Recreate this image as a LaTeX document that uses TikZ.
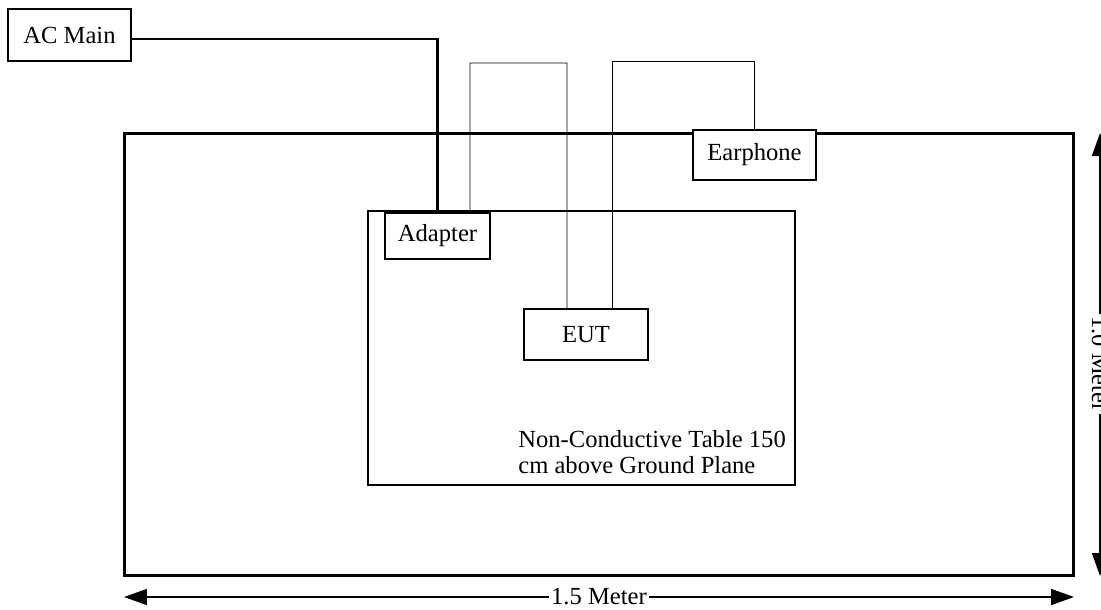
\documentclass[tikz,border=0pt]{standalone}
\usepackage{fontspec}
\setmainfont{Liberation Serif}
\usetikzlibrary{arrows.meta}

\begin{document}
\begin{tikzpicture}[x=0.02cm, y=-0.02cm,
  font=\fontsize{14}{14.7}\selectfont,
  unitbox/.style={draw, line width=0.7pt, fill=white, inner sep=0pt},
  plane/.style={draw, line width=1.7pt, inner sep=0pt},
  power/.style={line width=1.7pt},
  cable/.style={line width=0.5pt},
  dimline/.style={line width=0.9pt, {Triangle[length=0.46cm,width=0.32cm]}-{Triangle[length=0.46cm,width=0.32cm]}},
  dimlabel/.style={fill=white, inner sep=1pt}]
  \useasboundingbox (0,0) rectangle (1101,609);
  % draw ground plane and table
  \node[plane, minimum width=19cm, minimum height=8.86cm] (groundplane) at (599,354.5) {};
  \node[unitbox, minimum width=8.54cm, minimum height=5.48cm] (table) at (581.5,348) {};
  \node[anchor=north west, align=left, inner sep=0pt] (tablelabel) at (518,430) {Non-Conductive Table 150\\cm above Ground Plane};
  % draw units
  \node[unitbox, minimum width=2.46cm, minimum height=1.04cm] (acmain) at (69.5,35) {AC Main};
  \node[unitbox, minimum width=2.1cm, minimum height=0.92cm] (adapter) at (437.5,236) {Adapter};
  \node[unitbox, minimum width=2.48cm, minimum height=1.02cm] (eut) at (586,334.5) {EUT};
  \node[unitbox, minimum width=2.46cm, minimum height=1cm] (earphone) at (754.5,155) {Earphone};
  % draw cables
  \draw[power] ([yshift=-0.08cm]acmain.east) -| (adapter.north);
  \draw[cable] ([xshift=0.65cm]adapter.north) |- (567,63) -- ([xshift=-0.38cm]eut.north);
  \draw[cable] ([xshift=0.52cm]eut.north) |- (754.5,61) -- (earphone.north);
  % draw dimensions
  \coordinate (widthleft) at (124,597);
  \coordinate (widthright) at (1074,597);
  \coordinate (depthtop) at (1100,133);
  \coordinate (depthbottom) at (1100,576);
  \draw[dimline] (widthleft) -- (widthright);
  \node[dimlabel] (widthlabel) at (599,597) {1.5 Meter};
  \draw[dimline] (depthtop) -- (depthbottom);
  \node[dimlabel, rotate=-90] (depthlabel) at (1100,364) {1.0 Meter};
\end{tikzpicture}
\end{document}
